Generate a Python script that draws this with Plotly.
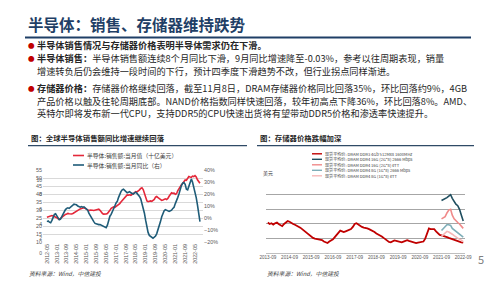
import plotly.graph_objects as go
import pandas as pd

# ---------------- data ----------------
# Left chart: monthly 2012-05 .. 2022-09
sales_months = pd.date_range("2012-05-01", "2022-09-01", freq="MS")
sales_value = [  # 十亿美元
    25.5, 25.8, 25.6, 25.9, 26.5, 26.3, 26.0, 25.8,
    25.2, 24.5, 24.3, 24.8, 25.5, 26.2, 26.8, 27.2, 27.5, 27.9, 27.7, 27.4,
    27.5, 27.8, 28.3, 28.8, 29.2, 29.6, 30.2, 30.7, 31.0, 31.3, 31.4, 31.0,
    30.4, 29.8, 29.6, 29.9, 30.0, 29.8, 29.7, 29.9, 30.2, 30.4, 30.5, 29.8,
    28.7, 27.8, 27.4, 27.3, 27.5, 27.8, 28.5, 29.8, 31.0, 31.6, 31.9, 31.7,
    32.2, 32.6, 33.2, 34.0, 35.0, 35.8, 36.8, 37.6, 38.6, 39.4, 39.3, 39.5,
    39.2, 39.5, 40.2, 40.9, 41.5, 41.3, 41.8, 42.6, 43.5, 43.9, 42.8, 40.3,
    37.5, 35.6, 35.2, 35.5, 35.7, 35.4, 35.8, 36.6, 38.0, 38.4, 37.8, 37.2,
    36.5, 36.0, 36.2, 36.4, 37.0, 36.6, 37.2, 38.6, 40.2, 40.8, 40.4, 40.5,
    39.8, 40.2, 42.0, 43.5, 45.0, 45.8, 46.6, 47.8, 48.8, 48.6, 49.8, 50.9,
    50.6, 50.4, 51.2, 50.9, 51.5, 50.6, 48.9, 47.5, 46.7,
]
sales_yoy = [  # %
    -3.0, -2.5, -3.5, -4.0, -2.0, 1.0, 3.0, 3.5,
    2.0, 0.0, -1.5, -1.0, 1.0, 3.5, 5.5, 7.0, 8.0, 8.5, 8.0, 9.0,
    10.0, 11.0, 11.5, 11.3, 11.0, 10.0, 9.5, 9.0, 9.5, 9.0, 9.3, 8.5,
    7.5, 6.5, 4.0, 2.0, 0.5, -1.0, -3.0, -4.5, -5.0, -5.0, -5.5, -5.5,
    -6.0, -6.5, -7.0, -7.5, -8.0, -6.0, -2.0, 1.5, 3.0, 5.0, 7.5, 10.0,
    12.5, 14.0, 17.0, 20.0, 22.0, 23.5, 24.0, 23.0, 22.0, 21.0, 21.5, 22.0,
    21.0, 20.5, 20.0, 21.0, 21.5, 20.5, 19.5, 18.0, 16.0, 12.5, 9.0, 4.0,
    -2.0, -8.0, -12.0, -14.5, -15.5, -16.5, -16.8, -16.0, -15.0, -13.0, -10.0, -6.0,
    -3.0, 1.0, 4.0, 6.0, 7.0, 6.5, 5.5, 5.5, 6.0, 6.5, 8.0, 9.0,
    12.0, 14.0, 17.0, 20.0, 24.0, 27.0, 29.0, 29.5, 28.0, 24.0, 23.5, 27.0,
    31.0, 32.5, 30.0, 26.0, 22.0, 17.0, 11.0, 5.0, -3.0,
]
left_xticks = ["2012-05", "2013-01", "2013-09", "2014-05", "2015-01", "2015-09",
               "2016-05", "2017-01", "2017-09", "2018-05", "2019-01", "2019-09",
               "2020-05", "2021-01", "2021-09", "2022-05"]

# Right chart
ddr3_months = pd.date_range("2013-09-01", "2022-09-01", freq="MS")
ddr3_4gb = [
    4.2, 4.0, 4.1, 3.9,
    4.1, 4.2, 4.0, 3.8, 3.7, 4.0, 4.2, 4.4, 4.3, 4.1, 4.0, 3.9,
    3.8, 3.7, 3.5, 3.3, 3.1, 2.9, 2.6, 2.4, 2.2, 2.1, 2.0, 1.95,
    1.9, 1.85, 1.8, 1.6, 1.5, 1.4, 1.6, 1.7, 1.9, 2.2, 2.5, 2.8,
    3.1, 3.0, 2.9, 3.0, 3.1, 3.2, 3.3, 3.6, 4.0, 4.1, 3.9, 3.7,
    3.6, 3.5, 3.4, 3.4, 3.3, 3.2, 3.1, 2.9, 2.7, 2.6, 2.5, 2.3,
    2.1, 1.9, 1.7, 1.55, 1.5, 1.6, 1.75, 1.7, 1.6, 1.55, 1.5, 1.6,
    1.75, 1.8, 1.7, 1.6, 1.5, 1.45, 1.4, 1.45, 1.5, 1.55, 1.6, 2.0,
    2.6, 3.4, 3.3, 3.35, 3.3, 3.0, 2.7, 2.5, 2.45, 2.4, 2.3, 2.2,
    2.1, 2.0, 1.95, 1.85, 1.8, 1.7, 1.6, 1.5, 1.45,
]
ddr4_months = pd.date_range("2021-09-01", "2022-09-01", freq="MS")
ddr4_16g_2666 = [7.2, 7.3, 7.4, 7.6, 7.8, 8.0, 7.5, 7.0, 6.7, 6.5, 6.0, 5.2, 4.4]
ddr4_16g_ett = [4.7, 4.8, 5.0, 5.5, 5.9, 6.0, 5.2, 4.7, 4.4, 4.2, 4.0, 3.7, 3.4]
ddr4_8g_2666 = [3.1, 3.4, 3.7, 3.9, 3.9, 3.8, 3.4, 3.2, 3.0, 2.9, 2.7, 2.5, 2.2]
ddr4_8g_ett = [2.3, 2.5, 2.8, 3.0, 2.9, 2.8, 2.6, 2.4, 2.2, 2.0, 1.9, 1.8, 1.6]
right_xticks = ["2013-09", "2014-09", "2015-09", "2016-09", "2017-09",
                "2018-09", "2019-09", "2020-09", "2021-09", "2022-09"]

right_names = [
    "现货平均价: DRAM DDR3 4Gb 512Mx8 1600MHz",
    "现货平均价: DRAM DDR4 16G (2G*8) 2666 Mbps",
    "现货平均价: DRAM DDR4 16G (2G*8) eTT",
    "现货平均价: DRAM DDR4 8G (1G*8) 2666 Mbps",
    "现货平均价: DRAM DDR4 8G (1G*8) eTT",
]
right_colors = ["#C00000", "#1F4E5F", "#F08A8A", "#7FAEB8", "#F6B8B8"]
left_names = ["半导体:销售额:当月值（十亿美元）", "半导体:销售额:当月同比（右）"]
left_colors = ["#E4283A", "#1F5C78"]

W, H = 500, 281
def px(x): return x / W
def py(y): return 1 - y / H

FONT = "Noto Sans CJK SC"
NUMFONT = "Liberation Sans"
fig = go.Figure()

# left chart traces
fig.add_trace(go.Scatter(x=sales_months, y=sales_value, mode="lines",
                         line=dict(color=left_colors[0], width=1.6),
                         xaxis="x", yaxis="y", name=left_names[0], showlegend=False))
fig.add_trace(go.Scatter(x=sales_months, y=sales_yoy, mode="lines",
                         line=dict(color=left_colors[1], width=1.6),
                         xaxis="x", yaxis="y2", name=left_names[1], showlegend=False))
# right chart traces
fig.add_trace(go.Scatter(x=ddr3_months, y=ddr3_4gb, mode="lines",
                         line=dict(color=right_colors[0], width=1.8),
                         xaxis="x3", yaxis="y3", name=right_names[0], showlegend=False))
for vals, nm, col in [(ddr4_16g_2666, right_names[1], right_colors[1]),
                      (ddr4_16g_ett, right_names[2], right_colors[2]),
                      (ddr4_8g_2666, right_names[3], right_colors[3]),
                      (ddr4_8g_ett, right_names[4], right_colors[4])]:
    fig.add_trace(go.Scatter(x=ddr4_months, y=vals, mode="lines",
                             line=dict(color=col, width=1.6),
                             xaxis="x3", yaxis="y3", name=nm, showlegend=False))

tick_font = dict(family=NUMFONT, size=5.4, color="#595959")
fig.update_layout(
    width=W, height=H, margin=dict(l=0, r=0, t=0, b=0),
    paper_bgcolor="white", plot_bgcolor="white", showlegend=False,
    font=dict(family=FONT),
    xaxis=dict(domain=[px(43), px(203)], anchor="y", type="date",
               range=["2012-01-25", "2022-11-15"],
               tickvals=[t + "-01" for t in left_xticks], ticktext=left_xticks,
               tickangle=-90, tickfont=dict(family=NUMFONT, size=5.4, color="#595959"),
               showgrid=False, showline=False, zeroline=False, ticks="", automargin=False),
    yaxis=dict(domain=[py(242), py(170)], range=[10, 55], dtick=5, tick0=10,
               gridcolor="#D9D9D9", gridwidth=1, zeroline=False, showline=False,
               tickfont=tick_font, ticks="", automargin=False),
    yaxis2=dict(overlaying="y", side="right", anchor="x", range=[-20, 40], dtick=10,
                ticksuffix="%", showgrid=False, zeroline=False, showline=False,
                tickfont=tick_font, ticks="", automargin=False),
    xaxis3=dict(domain=[px(266), px(465)], anchor="y3", type="date",
                range=["2013-08-01", "2022-10-01"],
                tickvals=[t + "-01" for t in right_xticks], ticktext=right_xticks,
                tickangle=0, tickfont=dict(family=NUMFONT, size=4.6, color="#595959"),
                showgrid=False, showline=False, zeroline=False, ticks="", automargin=False),
    yaxis3=dict(domain=[py(253.3), py(180)], range=[0, 10], dtick=2,
                gridcolor="#A6A6A6", gridwidth=1, zeroline=True, zerolinecolor="#BFBFBF",
                zerolinewidth=1, showline=False,
                tickfont=dict(family=NUMFONT, size=5, color="#595959"), ticks="", automargin=False),
)

shapes = []
ann = []
# header
ann.append(dict(x=px(26), y=py(24), xref="paper", yref="paper", xanchor="left", yanchor="middle",
                text="<b>半导体：销售、存储器维持跌势</b>", showarrow=False,
                font=dict(family=FONT, size=15.5, color="#1F3F66")))
shapes.append(dict(type="line", xref="paper", yref="paper", x0=px(25), x1=px(471),
                   y0=py(37.5), y1=py(37.5), line=dict(color="#1F3F66", width=2)))

# bullet text
lines = [
    (45, True, "<b>半导体销售情况与存储器价格表明半导体需求仍在下滑。</b>"),
    (58, True, "<b>半导体销售：</b>半导体销售额连续8个月同比下滑，9月同比增速降至-0.03%，参考以往周期表现，销量"),
    (71, False, "增速转负后仍会维持一段时间的下行，预计四季度下滑趋势不改，但行业拐点同样渐进。"),
    (88, True, "<b>存储器价格：</b>存储器价格继续回落，截至11月8日，DRAM存储器价格同比回落35%，环比回落约9%，4GB"),
    (101, False, "产品价格以触及往轮周期底部。NAND价格指数同样快速回落，较年初高点下降36%，环比回落8%。AMD、"),
    (113, False, "英特尔即将发布新一代CPU，支持DDR5的CPU快速出货将有望带动DDR5价格和渗透率快速提升。"),
]
for y, bullet, txt in lines:
    if bullet:
        ann.append(dict(x=px(26), y=py(y), xref="paper", yref="paper", xanchor="left",
                        yanchor="middle", text="●", showarrow=False,
                        font=dict(family=FONT, size=6.5, color="#C00000")))
    ann.append(dict(x=px(35), y=py(y), xref="paper", yref="paper", xanchor="left",
                    yanchor="middle", text=txt, showarrow=False,
                    font=dict(family=FONT, size=9.2, color="#262626")))

# chart titles
ann.append(dict(x=px(29), y=py(137), xref="paper", yref="paper", xanchor="left", yanchor="middle",
                text="<b>图：全球半导体销售额同比增速继续回落</b>", showarrow=False,
                font=dict(family=FONT, size=7.4, color="#262626")))
shapes.append(dict(type="line", xref="paper", yref="paper", x0=px(28), x1=px(247),
                   y0=py(145.7), y1=py(145.7), line=dict(color="#2F4A66", width=1.3)))
ann.append(dict(x=px(258), y=py(137.5), xref="paper", yref="paper", xanchor="left", yanchor="middle",
                text="<b>图：存储器价格跌幅加深</b>", showarrow=False,
                font=dict(family=FONT, size=7.4, color="#262626")))
shapes.append(dict(type="line", xref="paper", yref="paper", x0=px(257), x1=px(474),
                   y0=py(145.7), y1=py(145.7), line=dict(color="#2F4A66", width=1.3)))

# left legend
for i, (nm, col) in enumerate(zip(left_names, left_colors)):
    yy = 155.5 + i * 9.5
    shapes.append(dict(type="line", xref="paper", yref="paper", x0=px(73), x1=px(84),
                       y0=py(yy), y1=py(yy), line=dict(color=col, width=1.6)))
    ann.append(dict(x=px(85), y=py(yy), xref="paper", yref="paper", xanchor="left",
                    yanchor="middle", text=nm, showarrow=False,
                    font=dict(family=FONT, size=5.8, color="#404040")))
# right legend
for i, (nm, col) in enumerate(zip(right_names, right_colors)):
    yy = 153.8 + i * 5.5
    shapes.append(dict(type="line", xref="paper", yref="paper", x0=px(312), x1=px(322),
                       y0=py(yy), y1=py(yy), line=dict(color=col, width=1.4)))
    ann.append(dict(x=px(322.5), y=py(yy), xref="paper", yref="paper", xanchor="left",
                    yanchor="middle", text=nm, showarrow=False,
                    font=dict(family=FONT, size=4.1, color="#404040")))
# unit label
ann.append(dict(x=px(261), y=py(173), xref="paper", yref="paper", xanchor="left", yanchor="middle",
                text="美元", showarrow=False, font=dict(family=FONT, size=5, color="#404040")))

# sources
for xx in (27, 265):
    ann.append(dict(x=px(xx), y=py(273.5), xref="paper", yref="paper", xanchor="left",
                    yanchor="middle", text="<i>资料来源：Wind，中信建投</i>", showarrow=False,
                    font=dict(family=FONT, size=5.8, color="#404040")))
# page number
ann.append(dict(x=px(481), y=py(259), xref="paper", yref="paper", xanchor="center", yanchor="middle",
                text="5", showarrow=False, font=dict(family=FONT, size=11, color="#7F7F7F")))

fig.update_layout(shapes=shapes, annotations=ann)
fig.write_html("out.html")
